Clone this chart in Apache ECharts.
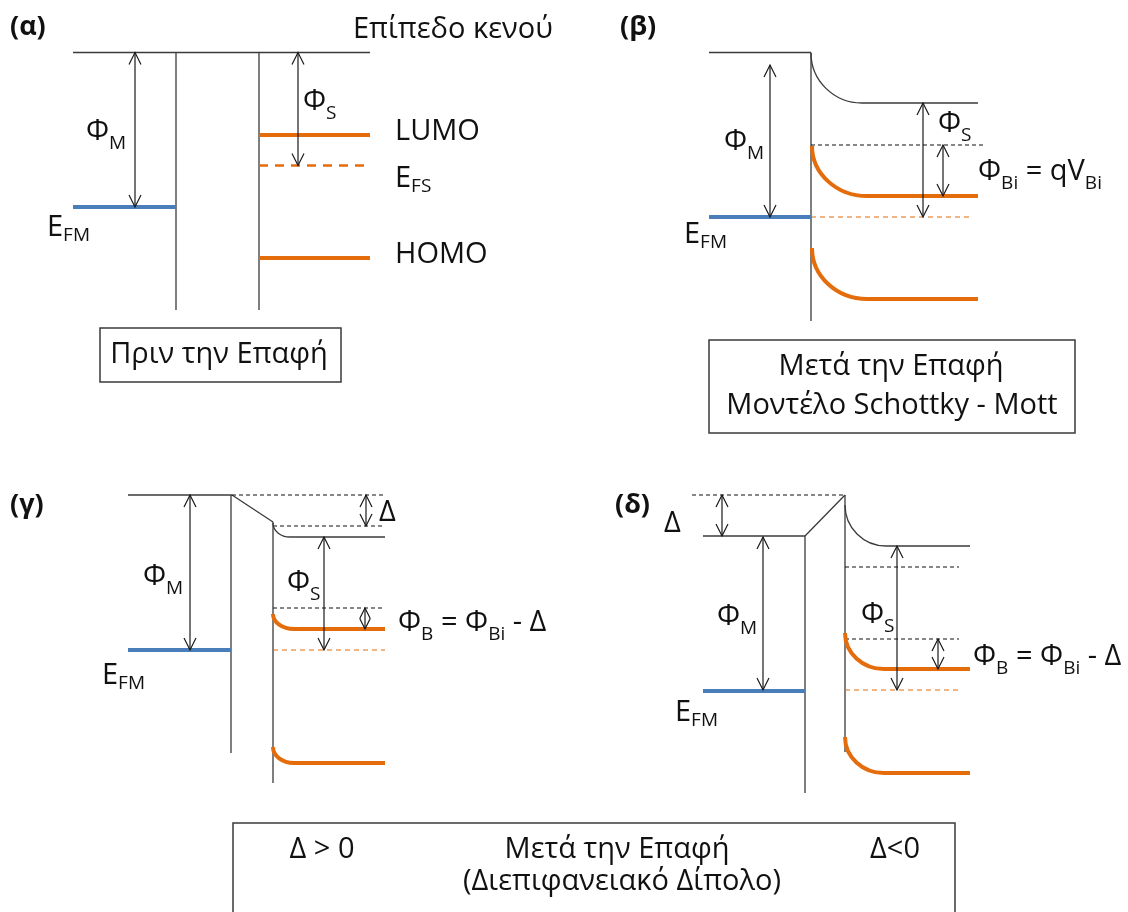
<!DOCTYPE html>
<html>
<head>
<meta charset="utf-8">
<script src="https://cdn.jsdelivr.net/npm/echarts@6/dist/echarts.min.js"></script>
<style>
  html, body { margin: 0; padding: 0; background: #ffffff; }
  #chart { width: 1128px; height: 912px; }
</style>
</head>
<body>
<div id="chart"></div>
<script>
// Energy-band diagrams of a metal / organic semiconductor contact.
// All geometry is given in diagram units (x to the right, energy axis downwards).

// Thin solid lines: vacuum levels and interfaces [x1, y1, x2, y2]
const thinLines = [
  // (α) before contact
  [73, 52.5, 370, 52.5], [176, 52.5, 176, 310], [259, 52.5, 259, 310],
  // (β) Schottky-Mott
  [709, 52.5, 811, 52.5], [811, 52.5, 811, 321],
  // (γ) dipole Δ > 0
  [128, 495, 232, 495], [232, 495, 273, 522], [231, 495, 231, 753], [273, 522, 273, 783],
  // (δ) dipole Δ < 0
  [703, 536, 805, 536], [805, 536, 845, 495], [805, 536, 805, 793], [845, 495, 845, 752]
];

// Thin dashed reference levels [x1, y1, x2, y2]
const dashedLines = [
  [811, 145, 984, 145],
  [232, 495, 385, 495], [273, 526, 385, 526], [273, 608, 385, 608],
  [692, 495, 845, 495], [845, 567, 959, 567], [845, 639, 959, 639]
];

// Metal Fermi levels E_FM [x1, y, x2]
const metalFermi = [
  [73, 207, 176], [709, 217, 811], [128, 650, 231], [703, 691, 805]
];

// Flat molecular levels (LUMO / HOMO) before contact [x1, y, x2]
const flatLevels = [
  [259, 135, 370], [259, 258, 370]
];

// Semiconductor Fermi levels E_FS [x1, y, x2]
const semiFermiBefore = [[259, 165.5, 370]];
const semiFermiAfter = [[811, 217, 972], [273, 650, 385], [845, 690, 959]];

// Bent bands: [x at interface, y at interface, x where bending ends, bulk y, x end]
const bentVacuum = [
  [811, 53, 862, 103, 978],
  [273, 523, 290, 537, 385],
  [845, 505, 886, 546, 970]
];
const bentOrbitals = [
  [812, 146, 867, 196, 978], [812, 248, 867, 299, 978],
  [273, 614, 294, 629, 385], [273, 747, 294, 763, 385],
  [845, 633, 884, 669, 970], [845, 737, 884, 773, 970]
];

// Double-headed arrows [x, y top, y bottom]
const arrows = [
  [135, 52.5, 207], [298, 52.5, 165.5],
  [770, 65, 217], [923, 103, 217], [943, 145, 196],
  [190, 495, 650], [366, 495, 526], [324, 537, 650], [365, 608, 629],
  [722, 495, 536], [763, 537, 690], [897, 546, 690], [938, 639, 669]
];

// Caption frames [x1, y1, x2, y2]
const frames = [
  [100, 328, 341, 382], [709, 340, 1075, 433], [233, 823, 955, 930]
];

// Text labels [x, y, pieces, align]; a piece is [text, kind]
const PHI = 'Φ';
const labels = [
  [10, 27, [['(α)', 'panel']], 'left'],
  [353, 30, [['Επίπεδο κενού', 'text']], 'left'],
  [86, 132, [[PHI, 'phi'], ['M', 'sub']], 'left'],
  [47, 228, [['E', 'text'], ['FM', 'subE']], 'left'],
  [303, 102, [[PHI, 'phi'], ['S', 'sub']], 'left'],
  [395, 132, [['LUMO', 'text']], 'left'],
  [395, 179, [['E', 'text'], ['FS', 'subE']], 'left'],
  [395, 255, [['HOMO', 'text']], 'left'],
  [219, 355, [['Πριν την Επαφή', 'text']], 'center'],

  [620, 27, [['(β)', 'panel']], 'left'],
  [724, 142, [[PHI, 'phi'], ['M', 'sub']], 'left'],
  [684, 235, [['E', 'text'], ['FM', 'subE']], 'left'],
  [938, 124, [[PHI, 'phi'], ['S', 'sub']], 'left'],
  [978, 172, [[PHI, 'phi'], ['Bi', 'sub'], [' = qV', 'text'], ['Bi', 'sub']], 'left'],
  [891, 367, [['Μετά την Επαφή', 'text']], 'center'],
  [892, 406, [['Μοντέλο Schottky - Mott', 'text']], 'center'],

  [10, 505, [['(γ)', 'panel']], 'left'],
  [379, 513, [['Δ', 'text']], 'left'],
  [143, 577, [[PHI, 'phi'], ['M', 'sub']], 'left'],
  [102, 676, [['E', 'text'], ['FM', 'subE']], 'left'],
  [287, 583, [[PHI, 'phi'], ['S', 'sub']], 'left'],
  [398, 623, [[PHI, 'phi'], ['B', 'sub'], [' = ', 'text'], [PHI, 'phi'], ['Bi', 'sub'], [' - Δ', 'text']], 'left'],

  [615, 505, [['(δ)', 'panel']], 'left'],
  [664, 524, [['Δ', 'text']], 'left'],
  [717, 617, [[PHI, 'phi'], ['M', 'sub']], 'left'],
  [675, 713, [['E', 'text'], ['FM', 'subE']], 'left'],
  [861, 615, [[PHI, 'phi'], ['S', 'sub']], 'left'],
  [973, 657, [[PHI, 'phi'], ['B', 'sub'], [' = ', 'text'], [PHI, 'phi'], ['Bi', 'sub'], [' - Δ', 'text']], 'left'],

  [322, 850, [['Δ > 0', 'text']], 'center'],
  [617, 850, [['Μετά την Επαφή', 'text']], 'center'],
  [622, 882, [['(Διεπιφανειακό Δίπολο)', 'text']], 'center'],
  [895, 850, [['Δ<0', 'text']], 'center']
];

// ---------------------------------------------------------------------------
const FONT = '"Open Sans", "Noto Sans", "DejaVu Sans", sans-serif';
const INK = '#3a3a3a';
const ORANGE = '#E46C0A';
const BLUE = '#4A7EBB';
// size, weight, vertical shift of the piece's centre
const TEXT_STYLES = {
  panel: { size: 27, weight: 'bold', dy: 0 },
  text: { size: 29, weight: 'normal', dy: 0 },
  phi: { size: 29, weight: 'normal', dy: 0 },
  sub: { size: 19, weight: 'normal', dy: 12 },
  subE: { size: 19, weight: 'normal', dy: 8 }
};

const measureCtx = document.createElement('canvas').getContext('2d');
function pieceWidth(text, st) {
  measureCtx.font = st.weight + ' ' + st.size + 'px ' + FONT;
  return measureCtx.measureText(text).width;
}

function segmentSeries(rows, style, horizontal) {
  return {
    type: 'custom', coordinateSystem: 'cartesian2d', silent: true, clip: false,
    data: rows,
    renderItem: function (params, api) {
      const r = rows[params.dataIndex];
      const a = api.coord([r[0], r[1]]);
      const b = horizontal ? api.coord([r[2], r[1]]) : api.coord([r[2], r[3]]);
      return {
        type: 'line',
        shape: { x1: a[0], y1: a[1], x2: b[0], y2: b[1] },
        style: Object.assign({ fill: null }, style)
      };
    }
  };
}

const KAPPA = 0.5523;
function bendSeries(rows, style) {
  return {
    type: 'custom', coordinateSystem: 'cartesian2d', silent: true, clip: false,
    data: rows,
    renderItem: function (params, api) {
      const r = rows[params.dataIndex];
      const p0 = api.coord([r[0], r[1]]);
      const p1 = api.coord([r[2], r[3]]);
      const pe = api.coord([r[4], r[3]]);
      return {
        type: 'group',
        children: [
          {
            type: 'bezierCurve',
            shape: {
              x1: p0[0], y1: p0[1], x2: p1[0], y2: p1[1],
              cpx1: p0[0], cpy1: p0[1] + KAPPA * (p1[1] - p0[1]),
              cpx2: p1[0] - KAPPA * (p1[0] - p0[0]), cpy2: p1[1]
            },
            style: Object.assign({ fill: null }, style)
          },
          {
            type: 'line',
            shape: { x1: p1[0], y1: p1[1], x2: pe[0], y2: pe[1] },
            style: Object.assign({ fill: null }, style)
          }
        ]
      };
    }
  };
}

function arrowSeries(rows, style) {
  return {
    type: 'custom', coordinateSystem: 'cartesian2d', silent: true, clip: false,
    data: rows,
    renderItem: function (params, api) {
      const r = rows[params.dataIndex];
      const t = api.coord([r[0], r[1]]);
      const b = api.coord([r[0], r[2]]);
      const len = Math.abs(b[1] - t[1]);
      const L = Math.min(12, len / 2);
      const hw = 6 * L / 12;
      const s = Object.assign({ fill: null }, style);
      return {
        type: 'group',
        children: [
          { type: 'line', shape: { x1: t[0], y1: t[1], x2: b[0], y2: b[1] }, style: s },
          { type: 'polyline', shape: { points: [[t[0] - hw, t[1] + L], [t[0], t[1]], [t[0] + hw, t[1] + L]] }, style: s },
          { type: 'polyline', shape: { points: [[b[0] - hw, b[1] - L], [b[0], b[1]], [b[0] + hw, b[1] - L]] }, style: s }
        ]
      };
    }
  };
}

function frameSeries(rows, style) {
  return {
    type: 'custom', coordinateSystem: 'cartesian2d', silent: true, clip: false,
    data: rows,
    renderItem: function (params, api) {
      const r = rows[params.dataIndex];
      const a = api.coord([r[0], r[1]]);
      const b = api.coord([r[2], r[3]]);
      return {
        type: 'rect',
        shape: { x: a[0], y: a[1], width: b[0] - a[0], height: b[1] - a[1] },
        style: Object.assign({ fill: null }, style)
      };
    }
  };
}

function labelSeries(rows) {
  return {
    type: 'custom', coordinateSystem: 'cartesian2d', silent: true, clip: false,
    data: rows.map(function (r) { return [r[0], r[1]]; }),
    renderItem: function (params, api) {
      const r = rows[params.dataIndex];
      const p = api.coord([r[0], r[1]]);
      const pieces = r[2];
      const widths = pieces.map(function (pc) { return pieceWidth(pc[0], TEXT_STYLES[pc[1]]); });
      const total = widths.reduce(function (s, w) { return s + w; }, 0);
      let x = r[3] === 'center' ? p[0] - total / 2 : p[0];
      const children = pieces.map(function (pc, i) {
        const st = TEXT_STYLES[pc[1]];
        const el = {
          type: 'text',
          style: {
            text: pc[0], x: x, y: p[1] + st.dy,
            fontFamily: FONT, fontSize: st.size, fontWeight: st.weight,
            fill: '#111111', align: 'left', verticalAlign: 'middle'
          }
        };
        x += widths[i];
        return el;
      });
      return { type: 'group', children: children };
    }
  };
}

const chart = echarts.init(document.getElementById('chart'), null, { renderer: 'canvas' });
chart.setOption({
  backgroundColor: '#ffffff',
  animation: false,
  grid: { left: 0, right: 0, top: 0, bottom: 0 },
  xAxis: { type: 'value', min: 0, max: 1128, show: false },
  yAxis: { type: 'value', min: 0, max: 912, inverse: true, show: false },
  series: [
    segmentSeries(thinLines, { stroke: INK, lineWidth: 1.3 }, false),
    segmentSeries(dashedLines, { stroke: '#111111', lineWidth: 1.1, lineDash: [4, 3] }, false),
    bendSeries(bentVacuum, { stroke: INK, lineWidth: 1.3 }),
    segmentSeries(semiFermiBefore, { stroke: ORANGE, lineWidth: 2.5, lineDash: [9, 7] }, true),
    segmentSeries(semiFermiAfter, { stroke: ORANGE, lineWidth: 1.2, lineDash: [5, 4] }, true),
    segmentSeries(flatLevels, { stroke: ORANGE, lineWidth: 4 }, true),
    bendSeries(bentOrbitals, { stroke: ORANGE, lineWidth: 4 }),
    segmentSeries(metalFermi, { stroke: BLUE, lineWidth: 4 }, true),
    arrowSeries(arrows, { stroke: '#1a1a1a', lineWidth: 1.2 }),
    frameSeries(frames, { stroke: INK, lineWidth: 1.5 }),
    labelSeries(labels)
  ]
});
</script>
</body>
</html>
